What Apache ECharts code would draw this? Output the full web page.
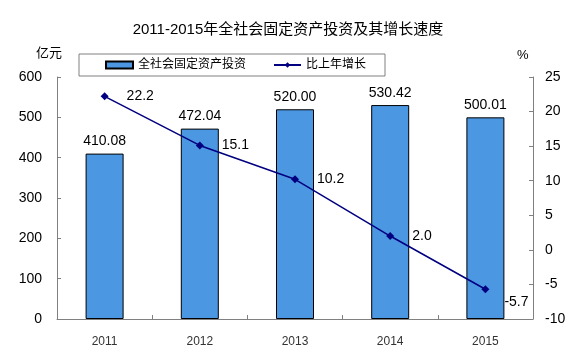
<!DOCTYPE html>
<html>
<head>
<meta charset="utf-8">
<script src="https://cdn.jsdelivr.net/npm/echarts@6/dist/echarts.min.js"></script>
<style>
html,body{margin:0;padding:0;background:#fff;}
#chart{width:576px;height:361px;}
</style>
</head>
<body>
<div id="chart"></div>
<script>
var categories = ['2011', '2012', '2013', '2014', '2015'];
var investment = [410.08, 472.04, 520.00, 530.42, 500.01];
var growth = [22.2, 15.1, 10.2, 2.0, -5.7];
var titleText = '2011-2015年全社会固定资产投资及其增长速度';
var barName = '全社会固定资产投资';
var lineName = '比上年增长';
var leftUnit = '亿元';
var rightUnit = '%';

var FONT = '"Liberation Sans", Arial, "Noto Sans CJK SC", sans-serif';
var chart = echarts.init(document.getElementById('chart'), null, {renderer: 'canvas'});

var growthData = growth.map(function (v, i) {
  var d = {value: v};
  if (i === growth.length - 1) {
    d.label = {offset: [-3, 13]};
  }
  return d;
});

chart.setOption({
  animation: false,
  backgroundColor: '#fff',
  textStyle: {fontFamily: FONT},
  title: {
    text: titleText,
    left: 'center',
    top: 17,
    textStyle: {fontSize: 15, fontWeight: 'normal', color: '#000', fontFamily: FONT}
  },
  legend: {
    left: 79,
    top: 54,
    padding: [5, 19, 5, 26],
    itemWidth: 27,
    itemHeight: 7,
    itemGap: 27,
    borderColor: '#808080',
    borderWidth: 1,
    textStyle: {fontSize: 12, color: '#000', fontFamily: FONT},
    data: [{name: barName, icon: 'rect'}, {name: lineName}]
  },
  grid: {left: 57, right: 43, top: 77, bottom: 42, containLabel: false},
  xAxis: {
    type: 'category',
    data: categories,
    axisLine: {lineStyle: {color: '#808080', width: 1}},
    axisTick: {show: true, inside: true, length: 4, alignWithLabel: false, lineStyle: {color: '#808080'}},
    axisLabel: {fontSize: 12, color: '#333', margin: 17, fontFamily: FONT}
  },
  yAxis: [
    {
      type: 'value',
      min: 0, max: 600, interval: 100,
      axisLine: {show: true, lineStyle: {color: '#808080', width: 1}},
      axisTick: {show: true, inside: true, length: 4, lineStyle: {color: '#808080'}},
      axisLabel: {fontSize: 14, color: '#000', margin: 15, fontFamily: FONT},
      splitLine: {show: false}
    },
    {
      type: 'value',
      min: -10, max: 25, interval: 5,
      axisLine: {show: true, lineStyle: {color: '#808080', width: 1}},
      axisTick: {show: true, inside: true, length: 4, lineStyle: {color: '#808080'}},
      axisLabel: {fontSize: 14, color: '#000', margin: 12, fontFamily: FONT},
      splitLine: {show: false}
    }
  ],
  graphic: [
    {type: 'text', left: 36, top: 47, style: {text: leftUnit, fill: '#000', font: '13px ' + FONT}},
    {type: 'text', left: 517, top: 49, style: {text: rightUnit, fill: '#000', font: '13px ' + FONT}}
  ],
  series: [
    {
      name: barName,
      type: 'bar',
      data: investment,
      barWidth: 38,
      itemStyle: {color: '#4b97e2', borderColor: '#000', borderWidth: 1},
      label: {
        show: true, position: 'top', distance: 5, fontSize: 14, color: '#000', fontFamily: FONT,
        formatter: function (p) { return p.value.toFixed(2); }
      },
      z: 2
    },
    {
      name: lineName,
      type: 'line',
      yAxisIndex: 1,
      data: growthData,
      symbol: 'diamond',
      symbolSize: 8,
      lineStyle: {color: '#000080', width: 1.5},
      itemStyle: {color: '#000080'},
      label: {
        show: true, position: 'right', distance: 18, fontSize: 14, color: '#000', fontFamily: FONT,
        formatter: function (p) { return p.value.toFixed(1); }
      },
      z: 3
    }
  ]
});
</script>
</body>
</html>
